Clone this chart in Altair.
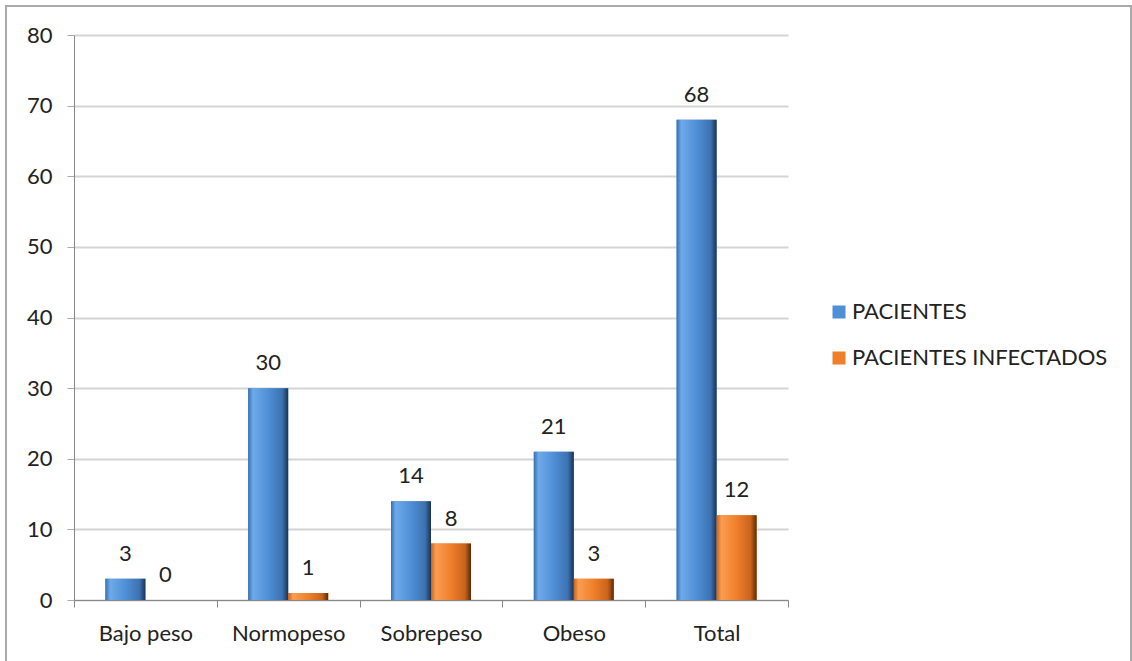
import altair as alt
import pandas as pd

categories = ["Bajo peso", "Normopeso", "Sobrepeso", "Obeso", "Total"]
series_names = ["PACIENTES", "PACIENTES INFECTADOS"]
pacientes = [3, 30, 14, 21, 68]
infectados = [0, 1, 8, 3, 12]
y_ticks = [0, 10, 20, 30, 40, 50, 60, 70, 80]

rows = []
for c, a, b in zip(categories, pacientes, infectados):
    rows.append({"cat": c, "serie": series_names[0], "val": a})
    rows.append({"cat": c, "serie": series_names[1], "val": b})
df = pd.DataFrame(rows)

FONT = "Lato"
FS = 22
blue_grad = {
    "gradient": "linear", "x1": 0, "x2": 1, "y1": 0, "y2": 0,
    "stops": [
        {"offset": 0, "color": "#3a6fae"},
        {"offset": 0.12, "color": "#6eaaea"},
        {"offset": 0.5, "color": "#4f8fd6"},
        {"offset": 0.85, "color": "#3c72b1"},
        {"offset": 1, "color": "#1b3352"},
    ],
}
orange_grad = {
    "gradient": "linear", "x1": 0, "x2": 1, "y1": 0, "y2": 0,
    "stops": [
        {"offset": 0, "color": "#c8641f"},
        {"offset": 0.12, "color": "#fa9d50"},
        {"offset": 0.5, "color": "#f07f2b"},
        {"offset": 0.85, "color": "#c9631c"},
        {"offset": 1, "color": "#5a2a08"},
    ],
}

x_enc = alt.X("cat:N", sort=categories, title=None,
              scale=alt.Scale(paddingInner=0, paddingOuter=0),
              axis=alt.Axis(labelAngle=0, labelFontSize=FS, labelFont=FONT,
                            labelColor="#222", labelPadding=16, tickBand="extent",
                            tickSize=7, tickColor="#888", domainColor="#888",
                            grid=False))
xo_enc = alt.XOffset("serie:N", sort=series_names,
                     scale=alt.Scale(domain=series_names, paddingOuter=0.785, paddingInner=0))
y_enc = alt.Y("val:Q", title=None,
              scale=alt.Scale(domain=[0, 80], nice=False),
              axis=alt.Axis(values=y_ticks, labelFontSize=FS, labelFont=FONT,
                            labelColor="#222", labelPadding=15, tickSize=7,
                            tickColor="#aaa", domainColor="#888",
                            gridColor="#d4d4d4", gridWidth=2))

base = alt.Chart(df)

bars_legend = base.mark_bar().encode(
    x=x_enc, xOffset=xo_enc, y=y_enc,
    color=alt.Color("serie:N", sort=series_names,
                    scale=alt.Scale(domain=series_names, range=["#4f8fd6", "#f07f2b"]),
                    legend=alt.Legend(title=None, orient="none", legendX=754, legendY=266,
                                      symbolType="square", symbolSize=169,
                                      symbolStrokeWidth=0, labelLimit=0,
                                      labelFontSize=FS, labelFont=FONT, labelColor="#222",
                                      rowPadding=24, labelOffset=2)),
)

bars_blue = base.transform_filter(alt.datum.serie == series_names[0]).mark_bar(
    fill=blue_grad).encode(x=alt.X("cat:N", sort=categories), xOffset=xo_enc, y="val:Q")
bars_orange = base.transform_filter(alt.datum.serie == series_names[1]).mark_bar(
    fill=orange_grad).encode(x=alt.X("cat:N", sort=categories), xOffset=xo_enc, y="val:Q")

labels = base.mark_text(fontSize=FS, font=FONT, color="#222", dy=-18,
                        baseline="alphabetic").encode(
    x=alt.X("cat:N", sort=categories), xOffset=xo_enc, y="val:Q",
    text=alt.Text("val:Q"))

border = alt.Chart(df).mark_rect(fill=None, stroke="#aaaaaa", strokeWidth=2).encode(
    x=alt.value(-68), x2=alt.value(1057), y=alt.value(-29), y2=alt.value(700))

chart = alt.layer(bars_legend, bars_blue, bars_orange, labels, border).properties(
    width=714, height=565,
    autosize=alt.AutoSizeParams(type="none"),
    padding={"left": 74, "top": 35, "right": 344, "bottom": 61},
    background="white",
).configure_view(stroke=None)

chart.save("out.html", embed_options={"renderer": "svg", "actions": False})
